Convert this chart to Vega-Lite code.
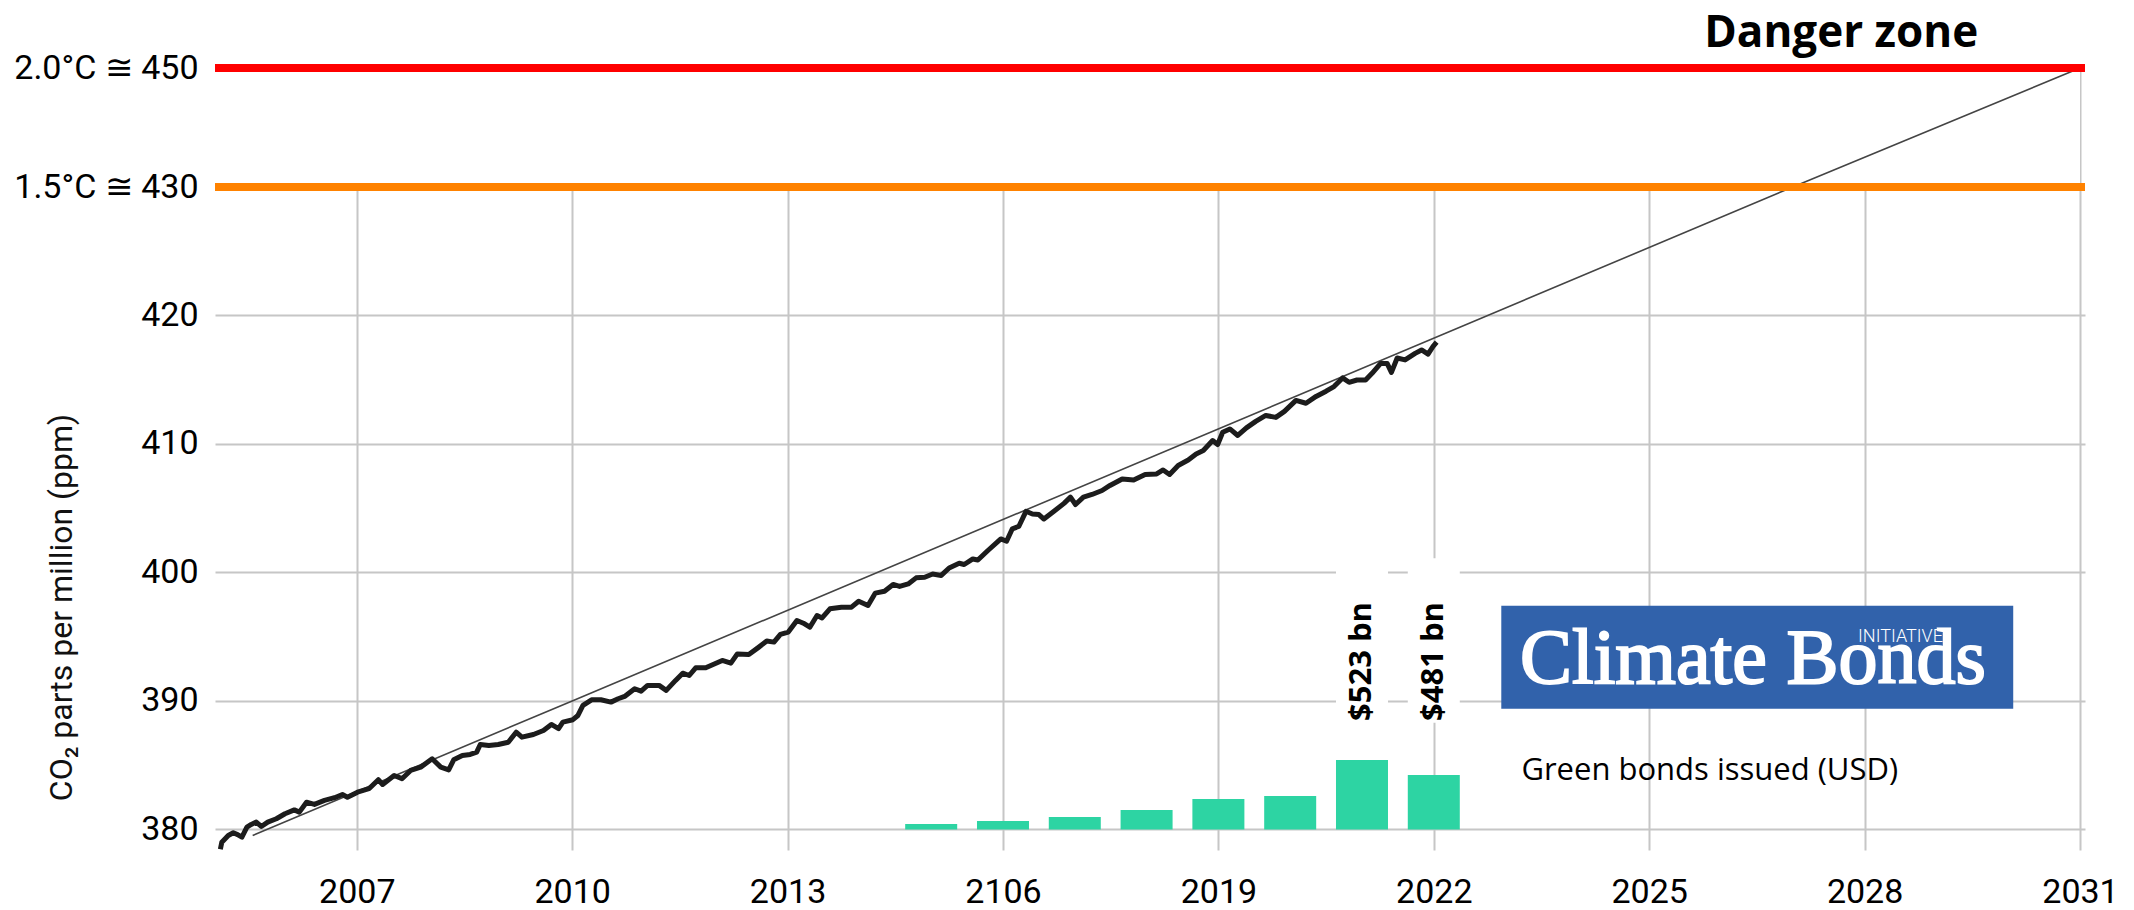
{
  "$schema": "https://vega.github.io/schema/vega-lite/v6.json",
  "width": 1870,
  "height": 782,
  "autosize": {"type": "none"},
  "padding": {"left": 215, "top": 68, "right": 49, "bottom": 60},
  "background": "white",
  "config": {"view": {"stroke": null}, "font": "Roboto"},
  "datasets": {
    "co2": [
      {"date": 2005.1, "ppm": 378.45}, {"date": 2005.12, "ppm": 379.0}, {"date": 2005.21, "ppm": 379.53}, {"date": 2005.28, "ppm": 379.74},
      {"date": 2005.34, "ppm": 379.6}, {"date": 2005.4, "ppm": 379.4}, {"date": 2005.47, "ppm": 380.18}, {"date": 2005.53, "ppm": 380.39},
      {"date": 2005.6, "ppm": 380.57}, {"date": 2005.67, "ppm": 380.23}, {"date": 2005.76, "ppm": 380.57}, {"date": 2005.88, "ppm": 380.83},
      {"date": 2006.0, "ppm": 381.22}, {"date": 2006.13, "ppm": 381.52}, {"date": 2006.2, "ppm": 381.35}, {"date": 2006.3, "ppm": 382.12},
      {"date": 2006.41, "ppm": 381.95}, {"date": 2006.55, "ppm": 382.26}, {"date": 2006.69, "ppm": 382.47}, {"date": 2006.8, "ppm": 382.72},
      {"date": 2006.87, "ppm": 382.51}, {"date": 2007.01, "ppm": 382.9}, {"date": 2007.17, "ppm": 383.17}, {"date": 2007.3, "ppm": 383.87},
      {"date": 2007.36, "ppm": 383.5}, {"date": 2007.52, "ppm": 384.2}, {"date": 2007.63, "ppm": 383.95}, {"date": 2007.75, "ppm": 384.59},
      {"date": 2007.89, "ppm": 384.85}, {"date": 2008.05, "ppm": 385.5}, {"date": 2008.17, "ppm": 384.85}, {"date": 2008.28, "ppm": 384.64},
      {"date": 2008.35, "ppm": 385.42}, {"date": 2008.47, "ppm": 385.76}, {"date": 2008.58, "ppm": 385.84}, {"date": 2008.67, "ppm": 386.02},
      {"date": 2008.72, "ppm": 386.61}, {"date": 2008.84, "ppm": 386.54}, {"date": 2008.97, "ppm": 386.61}, {"date": 2009.11, "ppm": 386.79},
      {"date": 2009.22, "ppm": 387.57}, {"date": 2009.3, "ppm": 387.18}, {"date": 2009.46, "ppm": 387.39}, {"date": 2009.6, "ppm": 387.7},
      {"date": 2009.71, "ppm": 388.17}, {"date": 2009.81, "ppm": 387.84}, {"date": 2009.87, "ppm": 388.35}, {"date": 2010.01, "ppm": 388.54},
      {"date": 2010.08, "ppm": 388.87}, {"date": 2010.15, "ppm": 389.65}, {"date": 2010.27, "ppm": 390.09}, {"date": 2010.4, "ppm": 390.09},
      {"date": 2010.54, "ppm": 389.91}, {"date": 2010.64, "ppm": 390.17}, {"date": 2010.73, "ppm": 390.35}, {"date": 2010.87, "ppm": 390.95},
      {"date": 2010.96, "ppm": 390.76}, {"date": 2011.05, "ppm": 391.21}, {"date": 2011.21, "ppm": 391.21}, {"date": 2011.31, "ppm": 390.82},
      {"date": 2011.44, "ppm": 391.6}, {"date": 2011.54, "ppm": 392.16}, {"date": 2011.63, "ppm": 391.98}, {"date": 2011.72, "ppm": 392.58},
      {"date": 2011.86, "ppm": 392.58}, {"date": 2012.09, "ppm": 393.15}, {"date": 2012.21, "ppm": 392.94}, {"date": 2012.3, "ppm": 393.66},
      {"date": 2012.46, "ppm": 393.61}, {"date": 2012.6, "ppm": 394.19}, {"date": 2012.71, "ppm": 394.66}, {"date": 2012.81, "ppm": 394.58},
      {"date": 2012.9, "ppm": 395.18}, {"date": 2013.01, "ppm": 395.36}, {"date": 2013.13, "ppm": 396.26}, {"date": 2013.22, "ppm": 396.05},
      {"date": 2013.31, "ppm": 395.74}, {"date": 2013.41, "ppm": 396.65}, {"date": 2013.48, "ppm": 396.46}, {"date": 2013.59, "ppm": 397.17},
      {"date": 2013.75, "ppm": 397.3}, {"date": 2013.89, "ppm": 397.3}, {"date": 2013.99, "ppm": 397.76}, {"date": 2014.12, "ppm": 397.43},
      {"date": 2014.22, "ppm": 398.39}, {"date": 2014.35, "ppm": 398.54}, {"date": 2014.47, "ppm": 399.07}, {"date": 2014.56, "ppm": 398.91},
      {"date": 2014.68, "ppm": 399.11}, {"date": 2014.79, "ppm": 399.58}, {"date": 2014.91, "ppm": 399.63}, {"date": 2015.02, "ppm": 399.88},
      {"date": 2015.14, "ppm": 399.77}, {"date": 2015.25, "ppm": 400.35}, {"date": 2015.39, "ppm": 400.72}, {"date": 2015.46, "ppm": 400.62},
      {"date": 2015.58, "ppm": 401.05}, {"date": 2015.65, "ppm": 400.97}, {"date": 2015.79, "ppm": 401.71}, {"date": 2015.97, "ppm": 402.61},
      {"date": 2016.05, "ppm": 402.43}, {"date": 2016.13, "ppm": 403.4}, {"date": 2016.22, "ppm": 403.58}, {"date": 2016.32, "ppm": 404.76},
      {"date": 2016.41, "ppm": 404.55}, {"date": 2016.5, "ppm": 404.51}, {"date": 2016.57, "ppm": 404.16}, {"date": 2016.71, "ppm": 404.76},
      {"date": 2016.85, "ppm": 405.38}, {"date": 2016.94, "ppm": 405.86}, {"date": 2017.01, "ppm": 405.29}, {"date": 2017.12, "ppm": 405.86},
      {"date": 2017.24, "ppm": 406.07}, {"date": 2017.38, "ppm": 406.38}, {"date": 2017.49, "ppm": 406.77}, {"date": 2017.66, "ppm": 407.28},
      {"date": 2017.82, "ppm": 407.2}, {"date": 2017.98, "ppm": 407.63}, {"date": 2018.14, "ppm": 407.67}, {"date": 2018.23, "ppm": 407.98},
      {"date": 2018.32, "ppm": 407.63}, {"date": 2018.44, "ppm": 408.33}, {"date": 2018.58, "ppm": 408.75}, {"date": 2018.69, "ppm": 409.22},
      {"date": 2018.79, "ppm": 409.49}, {"date": 2018.92, "ppm": 410.27}, {"date": 2018.99, "ppm": 409.96}, {"date": 2019.06, "ppm": 410.91},
      {"date": 2019.16, "ppm": 411.17}, {"date": 2019.27, "ppm": 410.66}, {"date": 2019.39, "ppm": 411.25}, {"date": 2019.52, "ppm": 411.76},
      {"date": 2019.66, "ppm": 412.22}, {"date": 2019.8, "ppm": 412.07}, {"date": 2019.92, "ppm": 412.54}, {"date": 2020.08, "ppm": 413.39},
      {"date": 2020.22, "ppm": 413.17}, {"date": 2020.36, "ppm": 413.7}, {"date": 2020.5, "ppm": 414.11}, {"date": 2020.61, "ppm": 414.47},
      {"date": 2020.73, "ppm": 415.14}, {"date": 2020.82, "ppm": 414.8}, {"date": 2020.93, "ppm": 414.98}, {"date": 2021.05, "ppm": 414.98},
      {"date": 2021.14, "ppm": 415.5}, {"date": 2021.26, "ppm": 416.27}, {"date": 2021.35, "ppm": 416.27}, {"date": 2021.41, "ppm": 415.57},
      {"date": 2021.49, "ppm": 416.69}, {"date": 2021.6, "ppm": 416.54}, {"date": 2021.74, "ppm": 417.05}, {"date": 2021.83, "ppm": 417.32},
      {"date": 2021.92, "ppm": 417.0}, {"date": 2021.99, "ppm": 417.59}, {"date": 2022.04, "ppm": 417.92}
    ],
    "trend": [
      {"date": 2005.55, "ppm": 379.53},
      {"date": 2010.0, "ppm": 390.0},
      {"date": 2027.0, "ppm": 430.0},
      {"date": 2031.0, "ppm": 450.0}
    ],
    "bonds": [
      {"year": 2015, "bn": 41}, {"year": 2016, "bn": 63}, {"year": 2017, "bn": 93}, {"year": 2018, "bn": 146},
      {"year": 2019, "bn": 229}, {"year": 2020, "bn": 252}, {"year": 2021, "bn": 523}, {"year": 2022, "bn": 410}
    ],
    "bondLabels": [
      {"year": 2021, "label": "$523 bn"},
      {"year": 2022, "label": "$481 bn"}
    ]
  },
  "layer": [
    {
      "layer": [
        {
          "data": {"name": "co2"},
          "mark": {"type": "line", "color": "#1c1c1c", "strokeWidth": 5, "strokeJoin": "round", "opacity": 0},
          "encoding": {
            "x": {
              "field": "date", "type": "quantitative",
              "scale": {"domain": [2005.095, 2031], "nice": false, "zero": false},
              "axis": {
                "values": [2007, 2010, 2013, 2016, 2019, 2022, 2025, 2028, 2031],
                "format": "d",
                "labelExpr": "datum.value == 2016 ? '2106' : datum.label",
                "title": null,
                "labelFont": "Roboto", "labelFontSize": 34, "labelColor": "#000000",
                "labelPadding": 25, "labelFlush": false, "labelOverlap": false,
                "ticks": false, "domain": false,
                "grid": true, "gridColor": "#c6c6c6", "gridWidth": 2
              }
            },
            "y": {
              "field": "ppm", "type": "quantitative",
              "scale": {"domain": [378.4, 430, 450], "range": [782, 119, 0], "nice": false, "zero": false},
              "axis": {
                "values": [380, 390, 400, 410, 420, 430, 450],
                "labelExpr": "datum.value == 450 ? '2.0°C ≅ 450' : datum.value == 430 ? '1.5°C ≅ 430' : datum.label",
                "title": "CO₂ parts per million (ppm)",
                "titleFont": "Roboto", "titleFontSize": 32, "titleFontWeight": "normal", "titleColor": "#111111",
                "titleX": -154, "titleY": 539, "titleAngle": 270, "titleAlign": "center", "titleBaseline": "middle",
                "labelFont": "Roboto", "labelFontSize": 34, "labelColor": "#000000", "labelPadding": 17,
                "labelOverlap": false, "labelLimit": 400,
                "ticks": false, "domain": false,
                "grid": true, "gridColor": "#c6c6c6", "gridWidth": 2,
                "gridOpacity": {"condition": {"test": "datum.value > 425", "value": 0}, "value": 1}
              }
            }
          }
        },
        {
          "data": {"values": [{"band": "above 1.5°C"}]},
          "mark": {"type": "rect", "color": "white"},
          "encoding": {
            "x": {"datum": 2005.095, "type": "quantitative"},
            "x2": {"datum": 2031},
            "y": {"datum": 430, "type": "quantitative"},
            "y2": {"datum": 450}
          }
        },
        {
          "data": {"name": "trend"},
          "mark": {"type": "line", "color": "#444444", "strokeWidth": 1.6},
          "encoding": {
            "x": {"field": "date", "type": "quantitative"},
            "y": {"field": "ppm", "type": "quantitative"}
          }
        },
        {
          "data": {"name": "co2"},
          "mark": {"type": "line", "color": "#1c1c1c", "strokeWidth": 5, "strokeJoin": "round"},
          "encoding": {
            "x": {"field": "date", "type": "quantitative"},
            "y": {"field": "ppm", "type": "quantitative"}
          }
        },
        {
          "data": {"values": [{"level": "1.5°C"}]},
          "mark": {"type": "rule", "color": "#ff8200", "strokeWidth": 8},
          "encoding": {"y": {"datum": 430, "type": "quantitative"}}
        },
        {
          "data": {"values": [{"level": "2.0°C"}]},
          "mark": {"type": "rule", "color": "#ff0000", "strokeWidth": 8},
          "encoding": {"y": {"datum": 450, "type": "quantitative"}}
        },
        {
          "data": {"values": [{"text": "Danger zone"}]},
          "mark": {"type": "text", "font": "Open Sans", "fontWeight": "bold", "fontSize": 44, "color": "#000000", "align": "center", "baseline": "alphabetic", "dy": -21},
          "encoding": {
            "x": {"datum": 2027.675, "type": "quantitative"},
            "y": {"datum": 450, "type": "quantitative"},
            "text": {"field": "text"}
          }
        },
        {
          "data": {"name": "bondLabels"},
          "mark": {"type": "bar", "color": "white", "width": 52},
          "encoding": {
            "x": {"field": "year", "type": "quantitative"},
            "y": {"datum": 388.3, "type": "quantitative"},
            "y2": {"datum": 401.1}
          }
        },
        {
          "data": {"name": "bondLabels"},
          "mark": {"type": "text", "font": "Open Sans", "fontWeight": "bold", "fontSize": 31, "color": "#000000", "angle": 270, "align": "center", "baseline": "middle"},
          "encoding": {
            "x": {"field": "year", "type": "quantitative"},
            "y": {"datum": 393.07, "type": "quantitative"},
            "text": {"field": "label"}
          }
        },
        {
          "data": {"values": [{"name": "Climate Bonds Initiative"}]},
          "mark": {"type": "rect", "color": "#3162ab"},
          "encoding": {
            "x": {"datum": 2022.94, "type": "quantitative"},
            "x2": {"datum": 2030.07},
            "y": {"datum": 389.4, "type": "quantitative"},
            "y2": {"datum": 397.4}
          }
        },
        {
          "data": {"values": [{"text": "Climate Bonds"}]},
          "mark": {"type": "text", "font": "Liberation Serif", "fontSize": 78, "color": "#ffffff", "stroke": "#ffffff", "strokeWidth": 2, "align": "left", "baseline": "alphabetic"},
          "encoding": {
            "x": {"datum": 2023.2, "type": "quantitative"},
            "y": {"datum": 391.36, "type": "quantitative"},
            "text": {"field": "text"}
          }
        },
        {
          "data": {"values": [{"text": "INITIATIVE"}]},
          "mark": {"type": "text", "font": "Roboto", "fontWeight": 300, "fontSize": 18, "color": "#ffffff", "align": "center", "baseline": "alphabetic"},
          "encoding": {
            "x": {"datum": 2028.5, "type": "quantitative"},
            "y": {"datum": 394.6, "type": "quantitative"},
            "text": {"field": "text"}
          }
        },
        {
          "data": {"values": [{"text": "Green bonds issued (USD)"}]},
          "mark": {"type": "text", "font": "Open Sans", "fontSize": 31, "color": "#000000", "align": "left", "baseline": "alphabetic"},
          "encoding": {
            "x": {"datum": 2023.22, "type": "quantitative"},
            "y": {"datum": 383.81, "type": "quantitative"},
            "text": {"field": "text"}
          }
        }
      ]
    },
    {
      "data": {"name": "bonds"},
      "mark": {"type": "bar", "color": "#2dd4a3", "width": 52},
      "encoding": {
        "x": {"field": "year", "type": "quantitative"},
        "y": {"field": "bn", "type": "quantitative", "axis": null, "scale": {"domain": [0, 523], "range": [761.4, 692], "nice": false, "zero": false}}
      }
    }
  ],
  "resolve": {"scale": {"y": "independent"}, "axis": {"y": "independent"}}
}
